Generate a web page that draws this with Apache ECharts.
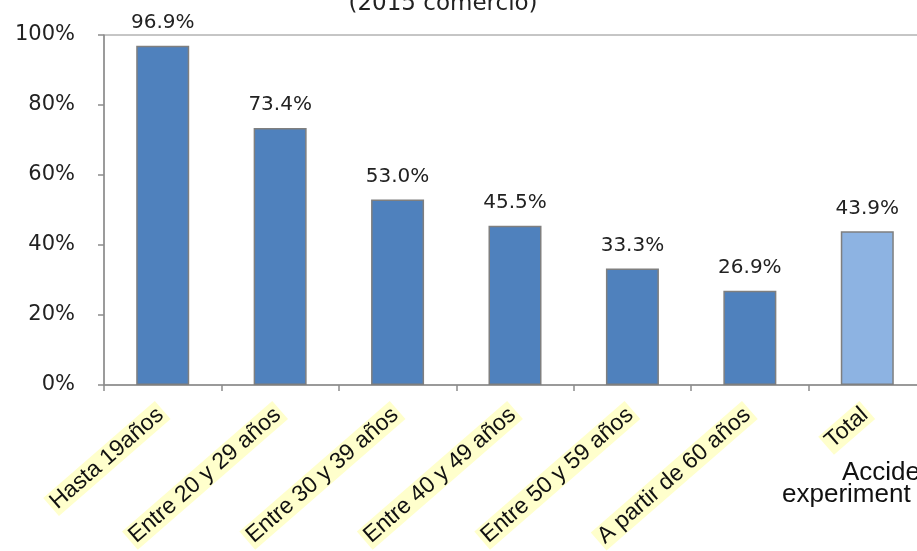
<!DOCTYPE html>
<html>
<head>
<meta charset="utf-8">
<script src="https://cdn.jsdelivr.net/npm/echarts@6/dist/echarts.min.js"></script>
<style>
html,body{margin:0;padding:0;background:#fff;}
#chart{width:917px;height:551px;}
</style>
</head>
<body>
<div id="chart"></div>
<script>
const categories = ['Hasta 19años', 'Entre 20 y 29 años', 'Entre 30 y 39 años', 'Entre 40 y 49 años', 'Entre 50 y 59 años', 'A partir de 60 años', 'Total'];
const values = [96.9, 73.4, 53.0, 45.5, 33.3, 26.9, 43.9];
const yTicks = [0, 20, 40, 60, 80, 100];
const titleText = '(2015 comercio)';
const noteLines = ['Accide', 'experiment'];

const chart = echarts.init(document.getElementById('chart'));
const barColor = '#4F81BD';
const totalColor = '#8DB3E2';

chart.setOption({
  animation: false,
  backgroundColor: '#ffffff',
  grid: {
    left: 104, width: 822, top: 35, height: 350,
    containLabel: false,
    outerBoundsMode: 'none',
    show: true, borderColor: '#8c8c8c', borderWidth: 1, backgroundColor: 'transparent'
  },
  xAxis: {
    type: 'category',
    data: categories,
    axisLine: { show: true, lineStyle: { color: '#8c8c8c', width: 1.5 } },
    axisTick: { show: true, alignWithLabel: false, length: 6, lineStyle: { color: '#8c8c8c', width: 1.5 } },
    axisLabel: {
      rotate: 41,
      interval: 0,
      margin: 25,
      fontFamily: 'Liberation Sans, Arial, sans-serif',
      fontSize: 23,
      color: '#111',
      backgroundColor: '#FFFFCC',
      padding: [1, 3, 0, 3]
    },
    splitLine: { show: false }
  },
  yAxis: {
    type: 'value',
    min: yTicks[0],
    max: yTicks[yTicks.length - 1],
    interval: yTicks[1] - yTicks[0],
    axisLine: { show: true, lineStyle: { color: '#8c8c8c', width: 1.5 } },
    axisTick: { show: true, length: 6, lineStyle: { color: '#8c8c8c', width: 1.5 } },
    axisLabel: {
      formatter: v => v + '%',
      margin: 29,
      fontFamily: 'DejaVu Sans, Verdana, sans-serif',
      fontSize: 21,
      color: '#222'
    },
    splitLine: { show: false }
  },
  series: [{
    type: 'bar',
    data: values.map((v, i) => ({
      value: v,
      itemStyle: { color: categories[i] === 'Total' ? totalColor : barColor }
    })),
    barWidth: 53,
    itemStyle: { borderColor: '#7f7f7f', borderWidth: 1.5 },
    label: {
      show: true,
      position: 'top',
      distance: 13,
      formatter: p => p.value.toFixed(1) + '%',
      fontFamily: 'DejaVu Sans, Verdana, sans-serif',
      fontSize: 20,
      color: '#222'
    }
  }],
  graphic: [
    {
      type: 'text', x: 443, y: -7,
      style: { text: titleText, textAlign: 'center', textVerticalAlign: 'top',
        font: '23px "DejaVu Sans", Verdana, sans-serif', fill: '#222' }
    },
    {
      type: 'text', x: 842, y: 460,
      style: { text: noteLines[0], textAlign: 'left', textVerticalAlign: 'top',
        font: '26px "Liberation Sans", Arial, sans-serif', fill: '#111' }
    },
    {
      type: 'text', x: 782, y: 482,
      style: { text: noteLines[1], textAlign: 'left', textVerticalAlign: 'top',
        font: '26px "Liberation Sans", Arial, sans-serif', fill: '#111' }
    }
  ]
});
</script>
</body>
</html>
